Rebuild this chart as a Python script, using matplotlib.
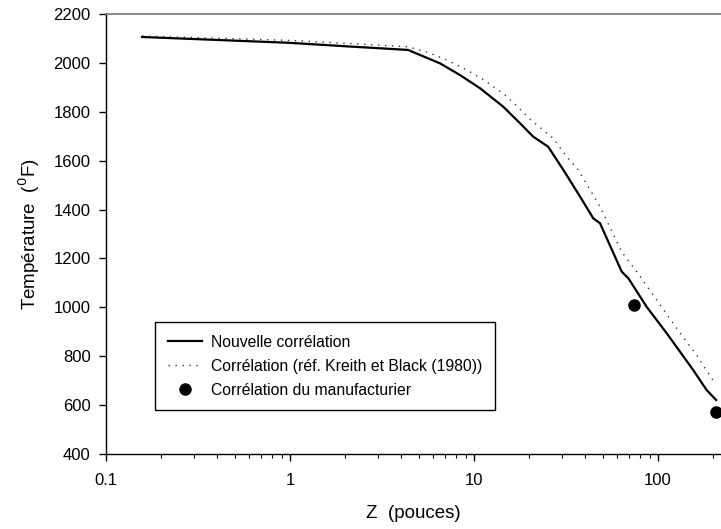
import numpy as np
import matplotlib
matplotlib.use('Agg')
import matplotlib.pyplot as plt
from matplotlib.ticker import FixedLocator, FixedFormatter, LogLocator, NullFormatter

plt.rcParams['font.family'] = ['Liberation Sans', 'DejaVu Sans']

# Nouvelle correlation (solid line)
z_new = [0.157, 1.0, 2.0, 4.38, 6.54, 8.4, 10.8, 14.4, 17.8, 21.0, 25.3, 30.6,
         37.7, 44.5, 48.4, 63.5, 69.0, 86.8, 111.5, 155.5, 183.6, 207.0]
t_new = [2106, 2082, 2068, 2053, 1998, 1950, 1896, 1821, 1753, 1698, 1657, 1562,
         1453, 1364, 1344, 1146, 1119, 1002, 894, 743, 662, 621]

# Correlation Kreith et Black (1980) (dotted line)
z_kb = [0.157, 1.0, 2.0, 4.4, 5.65, 7.11, 9.13, 11.5, 14.7, 17.1, 20.2, 27.0,
        31.9, 36.9, 48.4, 63.5, 76.6, 94.3, 126.3, 162.0, 205.6]
t_kb = [2110, 2092, 2080, 2066, 2042, 2012, 1971, 1927, 1869, 1824, 1769, 1691,
        1616, 1562, 1412, 1227, 1146, 1050, 914, 805, 685]

# Correlation du manufacturier (points)
z_man = [74.0, 207.0]
t_man = [1010, 572]

fig = plt.figure(figsize=(7.21, 5.29), dpi=100)
ax = fig.add_axes([106/721, 1-454/529, 1-106/721, 440/529])

ax.plot(z_new, t_new, color='black', lw=1.6, label='Nouvelle corrélation')
ax.plot(z_kb, t_kb, color='#333333', lw=1.0, linestyle=(0, (1, 4)),
        label='Corrélation (réf. Kreith et Black (1980))')
ax.plot(z_man, t_man, 'o', color='black', ms=8, clip_on=False,
        label='Corrélation du manufacturier')

ax.set_xscale('log')
ax.set_xlim(0.1, 220)
ax.set_ylim(400, 2200)

ax.xaxis.set_major_locator(FixedLocator([0.1, 1, 10, 100]))
ax.xaxis.set_major_formatter(FixedFormatter(['0.1', '1', '10', '100']))
ax.xaxis.set_minor_locator(LogLocator(base=10, subs=np.arange(2, 10)))
ax.xaxis.set_minor_formatter(NullFormatter())
ax.set_yticks(np.arange(400, 2201, 200))

ax.tick_params(axis='both', which='major', direction='out', length=5, width=1,
               labelsize=12, pad=6)
ax.tick_params(axis='x', which='minor', direction='out', length=3, width=0.8)
ax.tick_params(axis='x', which='major', pad=9)

ax.spines['right'].set_visible(False)
ax.spines['top'].set_color('#777777')
ax.spines['top'].set_linewidth(1.2)
ax.spines['left'].set_linewidth(1.0)
ax.spines['bottom'].set_linewidth(1.0)

ax.set_xlabel('Z  (pouces)', fontsize=13.5, labelpad=12)
ax.set_ylabel(r'Température  ($^0$F)', fontsize=13.5, labelpad=8)

leg = ax.legend(loc='upper left', bbox_to_anchor=((155-106)/615, (454-322)/440),
                fontsize=11.3, frameon=True, fancybox=False, edgecolor='black',
                framealpha=1, handlelength=2.2, handletextpad=0.55,
                labelspacing=0.58, borderpad=0.8, borderaxespad=0)
leg.get_frame().set_linewidth(1.0)

fig.savefig('out.png', dpi=100)
